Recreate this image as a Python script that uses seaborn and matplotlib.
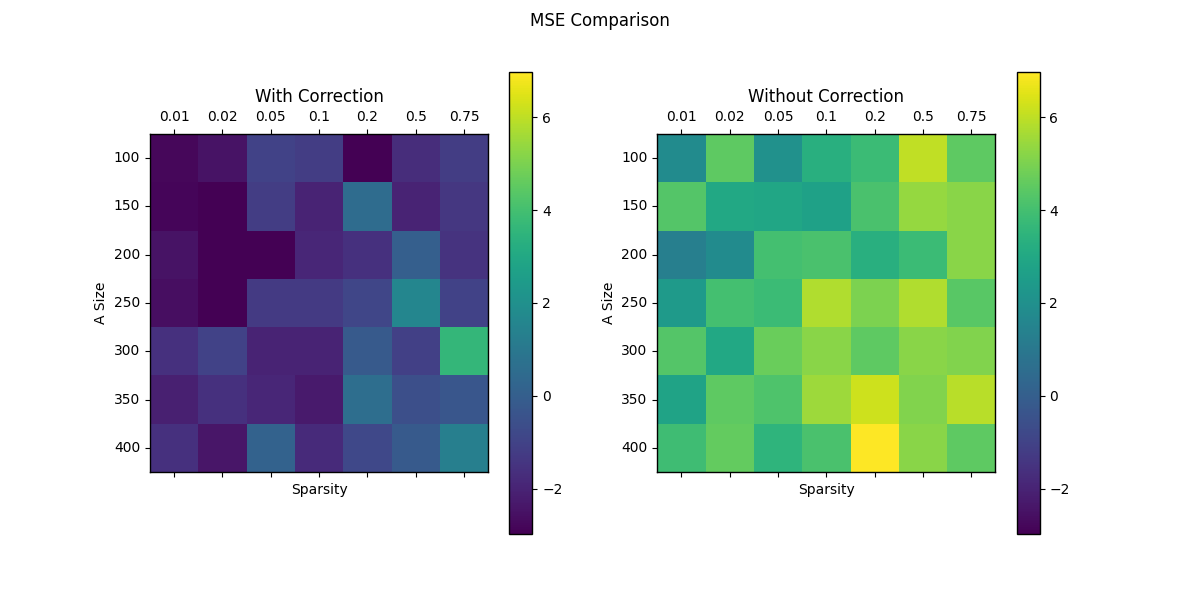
import numpy as np
import pandas as pd
import matplotlib
matplotlib.use("Agg")
import matplotlib.pyplot as plt
import seaborn as sns

# axis categories
sparsity = ["0.01", "0.02", "0.05", "0.1", "0.2", "0.5", "0.75"]
a_sizes = [100, 150, 200, 250, 300, 350, 400]

# MSE values (rows = A size, cols = sparsity)
mse_with = [
    [-2.8, -2.5, -1.0, -1.2, -2.97, -1.7, -1.2],
    [-2.85, -2.95, -1.2, -2.0, 0.5, -2.0, -1.4],
    [-2.5, -2.97, -2.97, -1.9, -1.6, 0.0, -1.5],
    [-2.6, -2.97, -1.3, -1.3, -0.9, 1.6, -1.0],
    [-1.6, -1.0, -2.0, -2.0, -0.2, -1.1, 3.6],
    [-2.1, -1.6, -1.9, -2.3, 0.6, -0.6, -0.3],
    [-1.6, -2.4, 0.1, -1.8, -0.8, -0.2, 1.3],
]
mse_without = [
    [1.8, 4.5, 2.0, 3.3, 3.8, 6.0, 4.5],
    [4.3, 3.0, 2.9, 2.7, 4.1, 5.4, 5.2],
    [1.3, 1.8, 4.0, 4.1, 3.3, 3.8, 5.2],
    [2.4, 4.0, 3.8, 5.8, 5.0, 5.8, 4.4],
    [4.3, 3.0, 4.7, 5.2, 4.5, 5.2, 5.1],
    [2.8, 4.5, 4.2, 5.5, 6.2, 5.1, 5.9],
    [3.9, 4.6, 3.5, 4.1, 6.97, 5.2, 4.5],
]

titles = ["With Correction", "Without Correction"]
frames = [pd.DataFrame(m, index=a_sizes, columns=sparsity) for m in (mse_with, mse_without)]

vmin = min(f.values.min() for f in frames)
vmax = max(f.values.max() for f in frames)

fig, axes = plt.subplots(1, 2, figsize=(12, 6), dpi=100)

for ax, df, title in zip(axes, frames, titles):
    sns.heatmap(df, ax=ax, cmap="viridis", vmin=vmin, vmax=vmax,
                square=True, cbar=True)
    # restore matshow-like look
    for spine in ax.spines.values():
        spine.set_visible(True)
        spine.set_linewidth(1.0)
    cb = ax.collections[0].colorbar
    cb.outline.set_linewidth(1.0)
    cb.ax.tick_params(labelsize=10)
    ax.tick_params(top=True, labeltop=True, bottom=True, labelbottom=False,
                   left=True, length=3.5, labelsize=10)
    plt.setp(ax.get_xticklabels(), rotation=0)
    plt.setp(ax.get_yticklabels(), rotation=0)
    ax.set_title(title, fontsize=12)
    ax.set_xlabel("Sparsity")
    ax.set_ylabel("A Size")

fig.suptitle("MSE Comparison", fontsize=12)
fig.savefig("out.png", dpi=100)
